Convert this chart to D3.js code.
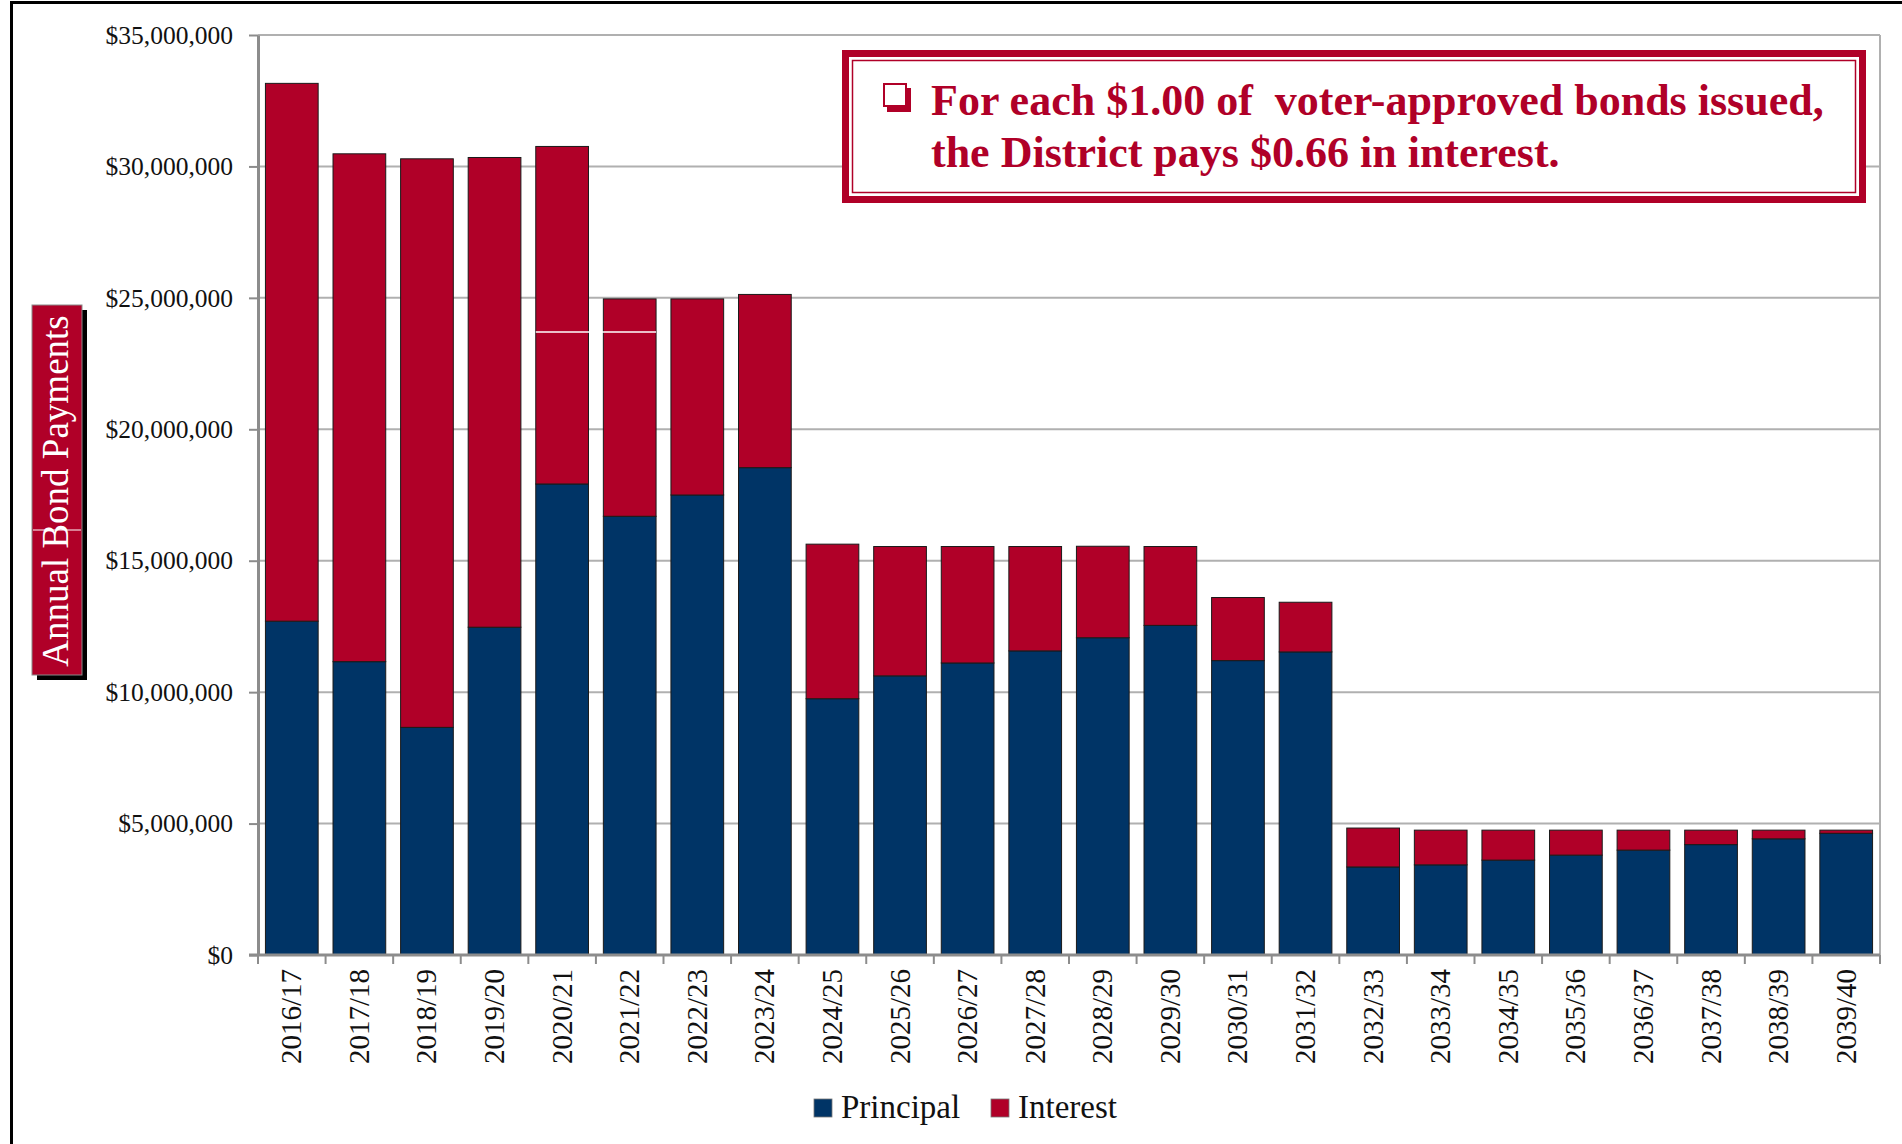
<!DOCTYPE html>
<html>
<head>
<meta charset="utf-8">
<script src="https://cdn.jsdelivr.net/npm/d3@7"></script>
<style>
  html, body { margin: 0; padding: 0; background: #fff; }
  svg { display: block; }
  text { font-family: "Liberation Serif", "DejaVu Serif", serif; }
</style>
</head>
<body>
<svg id="chart" width="1902" height="1144"></svg>
<script>
// ---- data (US dollars) ----
const categories = ["2016/17","2017/18","2018/19","2019/20","2020/21","2021/22","2022/23","2023/24",
  "2024/25","2025/26","2026/27","2027/28","2028/29","2029/30","2030/31","2031/32",
  "2032/33","2033/34","2034/35","2035/36","2036/37","2037/38","2038/39","2039/40"];
const principal = [12700000, 11160000, 8660000, 12470000, 17920000, 16690000, 17500000, 18540000,
  9750000, 10620000, 11110000, 11570000, 12070000, 12540000, 11200000, 11530000,
  3350000, 3430000, 3610000, 3800000, 3990000, 4200000, 4420000, 4630000];
const interest = [20460000, 19320000, 21630000, 17870000, 12840000, 8270000, 7460000, 6590000,
  5880000, 4920000, 4430000, 3970000, 3480000, 3000000, 2400000, 1890000,
  1480000, 1320000, 1140000, 950000, 760000, 550000, 330000, 120000];
const yTicks = [0, 5000000, 10000000, 15000000, 20000000, 25000000, 30000000, 35000000];
const seriesNames = ["Principal", "Interest"];
const yTitle = "Annual Bond Payments";
const noteLines = ["For each $1.00 of\u00A0 voter-approved bonds issued,", "the District pays $0.66 in interest."];
const artifactValue = 23700000; // thin white line seen across two bars

const colors = { Principal: "#003466", Interest: "#B00028" };
const red = "#B00028";

const svg = d3.select("#chart");
svg.append("rect").attr("width", 1902).attr("height", 1144).attr("fill", "#fff");

// outer frame (only left and top visible)
svg.append("path").attr("d", "M11.5,1144 V2.5 H1902").attr("fill", "none")
  .attr("stroke", "#000").attr("stroke-width", 3);

const L = 258, R = 1880, T = 35, B = 955;
const pad = 0.22;
const x = d3.scaleBand().domain(categories).range([L, R]).paddingInner(pad).paddingOuter(pad / 2);
const y = d3.scaleLinear().domain([0, 35000000]).range([B, T]);

// gridlines
svg.append("g").selectAll("line").data(yTicks.filter(d => d > 0)).join("line")
  .attr("x1", L).attr("x2", R).attr("y1", d => y(d)).attr("y2", d => y(d))
  .attr("stroke", "#b0b0b0").attr("stroke-width", 2);
// right plot border
svg.append("line").attr("x1", R).attr("x2", R).attr("y1", T).attr("y2", B)
  .attr("stroke", "#b0b0b0").attr("stroke-width", 2);

// stacked bars
const rows = categories.map((c, i) => ({ cat: c, Principal: principal[i], Interest: interest[i] }));
const stack = d3.stack().keys(seriesNames)(rows);
svg.append("g").selectAll("g").data(stack).join("g")
  .attr("fill", d => colors[d.key])
  .selectAll("rect").data(d => d).join("rect")
  .attr("x", d => x(d.data.cat))
  .attr("width", x.bandwidth())
  .attr("y", d => y(d[1]))
  .attr("height", d => y(d[0]) - y(d[1]))
  .attr("stroke", "#1a1a1a").attr("stroke-width", 1);

// artifact white line across 2020/21 & 2021/22
svg.append("line")
  .attr("x1", x("2020/21")).attr("x2", x("2021/22") + x.bandwidth())
  .attr("y1", y(artifactValue)).attr("y2", y(artifactValue))
  .attr("stroke", "#fff").attr("stroke-width", 1.5);

// y axis
const yAxis = d3.axisLeft(y).tickValues(yTicks).tickSizeInner(9).tickSizeOuter(0)
  .tickPadding(16).tickFormat(d => "$" + d3.format(",")(d));
const gy = svg.append("g").attr("transform", `translate(${L},0)`).call(yAxis);
gy.select(".domain").attr("stroke", "#8c8c8c").attr("stroke-width", 3);
gy.selectAll(".tick line").attr("stroke", "#8c8c8c").attr("stroke-width", 2);
gy.selectAll(".tick text").attr("font-size", 25.5).attr("fill", "#111")
  .attr("font-family", "Liberation Serif");

// x axis
const step = x.step();
const xAxis = d3.axisBottom(x).tickSize(0).tickPadding(0);
const gx = svg.append("g").attr("transform", `translate(0,${B})`).call(xAxis);
gx.select(".domain").attr("d", `M${L - 9},0H${R}`).attr("stroke", "#8c8c8c").attr("stroke-width", 3);
gx.selectAll(".tick text")
  .attr("font-size", 29).attr("fill", "#111").attr("font-family", "Liberation Serif")
  .attr("text-anchor", "end").attr("dy", null).attr("y", 0)
  .attr("transform", "translate(9.5,14) rotate(-90)");
// boundary ticks
const bounds = categories.map(c => x(c) - step * pad / 2).concat([R]);
gx.append("g").selectAll("line").data(bounds).join("line")
  .attr("x1", d => d).attr("x2", d => d).attr("y1", 0).attr("y2", 9)
  .attr("stroke", "#8c8c8c").attr("stroke-width", 2);

// y title box
const yb = svg.append("g");
yb.append("rect").attr("x", 37).attr("y", 310).attr("width", 50).attr("height", 370).attr("fill", "#000");
yb.append("rect").attr("x", 32).attr("y", 305).attr("width", 50).attr("height", 370)
  .attr("fill", red).attr("stroke", "#8a8a8a").attr("stroke-width", 1);
yb.append("line").attr("x1", 33).attr("x2", 81).attr("y1", 530).attr("y2", 530)
  .attr("stroke", "#fff").attr("stroke-width", 1);
yb.append("text").attr("transform", "translate(68,491) rotate(-90)")
  .attr("text-anchor", "middle").attr("font-size", 37).attr("fill", "#fff").text(yTitle);

// note box
const nb = svg.append("g");
nb.append("rect").attr("x", 845.5).attr("y", 53.5).attr("width", 1017).attr("height", 146)
  .attr("fill", "#fff").attr("stroke", red).attr("stroke-width", 7);
nb.append("rect").attr("x", 852.5).attr("y", 60.5).attr("width", 1003).attr("height", 132)
  .attr("fill", "none").attr("stroke", red).attr("stroke-width", 1.5);
// checkbox bullet
nb.append("rect").attr("x", 887).attr("y", 106).attr("width", 24).attr("height", 6).attr("fill", red);
nb.append("rect").attr("x", 905).attr("y", 88).attr("width", 6).attr("height", 24).attr("fill", red);
nb.append("rect").attr("x", 884).attr("y", 84).attr("width", 22).attr("height", 22)
  .attr("fill", "#fff").attr("stroke", red).attr("stroke-width", 2);
nb.selectAll("text.note").data(noteLines).join("text").attr("class", "note")
  .attr("x", 931).attr("y", (d, i) => 115 + i * 52)
  .attr("font-size", 44).attr("font-weight", "bold").attr("fill", red)
  .text(d => d);

// legend
const lg = svg.append("g");
const legendX = [814, 991];
seriesNames.forEach((s, i) => {
  lg.append("rect").attr("x", legendX[i]).attr("y", 1099).attr("width", 18).attr("height", 18)
    .attr("fill", colors[s]).attr("stroke", "#777").attr("stroke-width", 0.8);
  lg.append("text").attr("x", legendX[i] + 27).attr("y", 1118)
    .attr("font-size", 33).attr("fill", "#111").text(s);
});
</script>
</body>
</html>
